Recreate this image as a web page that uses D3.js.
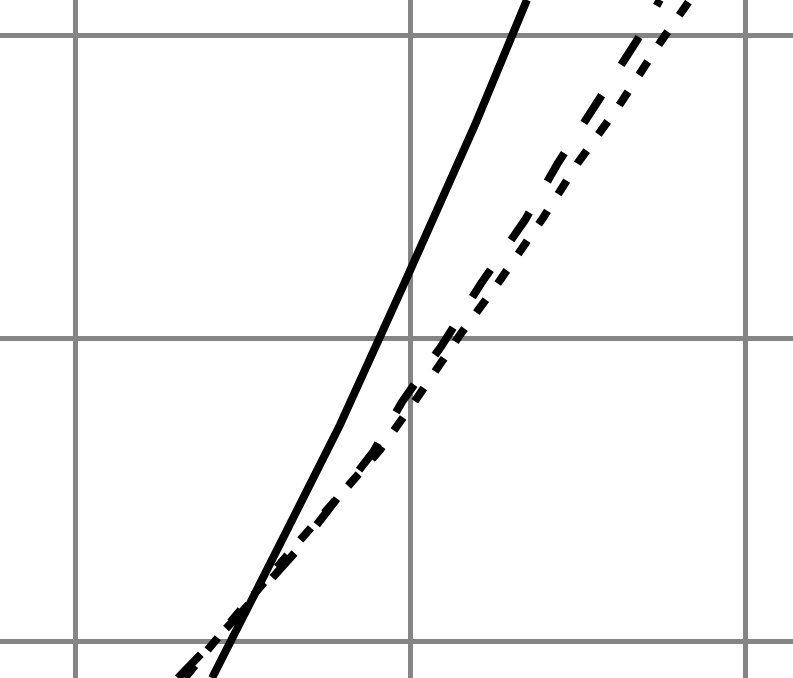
<!DOCTYPE html>
<html>
<head>
<meta charset="utf-8">
<script src="https://cdn.jsdelivr.net/npm/d3@7"></script>
<style>
  html, body { margin: 0; padding: 0; background: #ffffff; }
  svg { display: block; }
</style>
</head>
<body>
<svg id="chart" width="793" height="678"></svg>
<script>
// Grid tick values
const gridX = [0, 1, 2];
const gridY = [0, 1, 2];

// Solid line
const solidX = [0.409, 0.570, 0.791, 0.985, 1.194, 1.349];
const solidY = [-0.122, 0.228, 0.713, 1.185, 1.703, 2.116];

// Long-dash line
const dashX = [0.307, 0.484, 0.663, 0.890, 0.976, 1.096, 1.215, 1.343, 1.442, 1.567, 1.678, 1.746];
const dashY = [-0.122, 0.079, 0.300, 0.624, 0.789, 0.977, 1.185, 1.389, 1.578, 1.792, 1.983, 2.116];

// Short-dash line
const dotX = [0.328, 0.469, 0.672, 0.910, 1.021, 1.149, 1.269, 1.397, 1.501, 1.621, 1.746, 1.836];
const dotY = [-0.122, 0.069, 0.333, 0.630, 0.802, 1.010, 1.191, 1.396, 1.578, 1.762, 1.974, 2.116];

const W = 793, H = 678;
const svg = d3.select("#chart");

const x = d3.scaleLinear().domain([0, 1]).range([75, 410]);
const y = d3.scaleLinear().domain([0, 1]).range([641, 338]);

svg.append("rect").attr("width", W).attr("height", H).attr("fill", "#ffffff");

const clip = svg.append("defs").append("clipPath").attr("id", "clip");
clip.append("rect").attr("x", 0).attr("y", 0).attr("width", W).attr("height", H);

const g = svg.append("g").attr("clip-path", "url(#clip)");

// Grid lines via axes
const xGrid = d3.axisBottom(x).tickValues(gridX).tickSize(-H).tickFormat("");
const yGrid = d3.axisLeft(y).tickValues(gridY).tickSize(-W).tickFormat("");

const gx = g.append("g").attr("transform", `translate(0,${H})`).call(xGrid);
const gy = g.append("g").attr("transform", `translate(0,0)`).call(yGrid);
[gx, gy].forEach(a => {
  a.select(".domain").remove();
  a.selectAll(".tick line").attr("stroke", "#858585").attr("stroke-width", 5);
});
gy.selectAll(".tick line").attr("x1", 0).attr("x2", W);

const line = d3.line().x(d => x(d[0])).y(d => y(d[1]));

const series = [
  { xs: solidX, ys: solidY, dash: null },
  { xs: dashX, ys: dashY, dash: "33,36" },
  { xs: dotX, ys: dotY, dash: "16,20" }
];

series.forEach(s => {
  const pts = s.xs.map((v, i) => [v, s.ys[i]]);
  const p = g.append("path")
    .attr("d", line(pts))
    .attr("fill", "none")
    .attr("stroke", "#000000")
    .attr("stroke-width", 8)
    .attr("stroke-linejoin", "round")
    .attr("stroke-linecap", "butt");
  if (s.dash) p.attr("stroke-dasharray", s.dash);
});
</script>
</body>
</html>
